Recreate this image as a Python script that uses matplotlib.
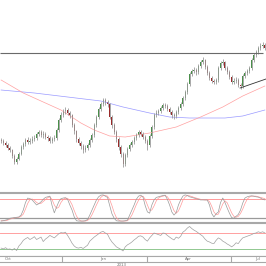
import numpy as np
import matplotlib
matplotlib.use("Agg")
import matplotlib.pyplot as plt

# price candles (arbitrary units, no axis labels on the original)
first_open = 60
closes = [59, 57, 55, 52, 50, 44, 38, 41, 46, 53, 56, 60, 58, 59, 61, 62, 66, 68, 65, 66,
          63, 62, 59, 61, 62, 70, 80, 85, 89, 90, 87, 85, 75, 69, 61, 57, 54, 50, 52, 55,
          60, 65, 75, 83, 91, 96, 100, 98, 96, 83, 75, 68, 61, 53, 46, 36, 45, 51, 55, 58,
          62, 65, 68, 66, 63, 59, 55, 64, 73, 85, 87, 89, 92, 95, 94, 91, 88, 85, 84, 88,
          92, 96, 102, 108, 116, 126, 129, 130, 128, 134, 138, 140, 133, 127, 122, 119, 118, 120, 132, 137,
          138, 132, 128, 123, 118, 119, 120, 115, 114, 124, 127, 129, 132, 140, 145, 148, 152, 154, 155, 152]
highs = [62, 61, 59, 57, 54, 51, 46, 43, 48, 55, 58, 62, 63, 62, 64, 65, 68, 70, 70, 69,
         68, 65, 64, 63, 65, 72, 82, 88, 91, 93, 92, 89, 86, 77, 70, 63, 59, 56, 55, 57,
         62, 67, 77, 85, 93, 98, 102, 102, 100, 97, 85, 77, 70, 63, 55, 48, 47, 53, 57, 60,
         64, 67, 70, 70, 68, 65, 61, 66, 75, 87, 90, 91, 94, 97, 97, 96, 93, 90, 87, 90,
         94, 98, 104, 110, 118, 128, 131, 133, 132, 136, 140, 143, 141, 135, 129, 124, 121, 122, 134, 139,
         141, 139, 134, 130, 125, 122, 123, 122, 117, 126, 129, 131, 134, 142, 147, 150, 154, 157, 158, 157]
lows = [57, 55, 53, 50, 48, 42, 36, 36, 40, 45, 51, 54, 56, 56, 57, 59, 60, 64, 63, 62,
        61, 59, 57, 57, 59, 60, 68, 78, 83, 86, 85, 82, 73, 66, 58, 55, 51, 47, 48, 50,
        53, 58, 63, 73, 81, 89, 94, 95, 93, 81, 72, 66, 58, 50, 43, 33, 34, 43, 49, 53,
        56, 60, 63, 64, 61, 57, 50, 53, 62, 71, 83, 85, 87, 90, 92, 89, 86, 82, 81, 82,
        86, 90, 94, 100, 106, 114, 124, 127, 125, 126, 132, 136, 131, 125, 120, 117, 116, 116, 118, 130,
        135, 130, 126, 121, 116, 116, 117, 113, 111, 112, 122, 125, 127, 130, 138, 143, 146, 150, 152, 150]

# moving averages, read at a few candles
ma_long_idx = [0, 15, 30, 45, 55, 67, 76, 85, 93, 101, 109, 114, 119]
ma_long = [110, 107, 103, 99, 93, 87, 83, 82, 82, 82, 84, 87, 90]
ma_short_idx = [0, 10, 20, 27, 36, 42, 49, 56, 67, 79, 90, 100, 109, 119]
ma_short = [120, 107, 97, 90, 77, 70, 64, 63, 67, 73, 83, 93, 104, 114]

resistance = 147
trend_idx = [107.8, 119.5]
trend_val = [112, 121]

stoch_k = [11, 12, 14, 16, 20, 21, 22, 23, 24, 30, 46, 70, 84, 82, 78, 70, 62, 66, 72, 80,
           86, 88, 90, 60, 37, 55, 72, 82, 84, 85, 80, 62, 46, 24, 12, 11, 11, 11, 12, 16,
           30, 46, 62, 78, 88, 93, 94, 90, 86, 60, 34, 20, 12, 11, 11, 11, 12, 14, 30, 46,
           62, 80, 90, 93, 87, 60, 40, 36, 62, 78, 86, 88, 90, 92, 93, 80, 62, 40, 30, 38,
           62, 78, 90, 94, 92, 88, 86, 84, 82, 80, 78, 78, 78, 78, 62, 35, 24, 34, 40, 70,
           84, 70, 52, 36, 22, 20, 26, 32, 46, 68, 84, 88, 90, 91, 90, 88, 87, 84, 80, 78]
stoch_d = [12, 12, 12, 14, 17, 19, 21, 22, 23, 26, 33, 49, 67, 79, 81, 77, 70, 66, 67, 73,
           79, 85, 88, 79, 62, 51, 55, 70, 79, 84, 83, 76, 63, 44, 27, 16, 11, 11, 11, 13,
           19, 31, 46, 62, 76, 86, 92, 92, 90, 79, 60, 38, 22, 14, 11, 11, 11, 12, 19, 30,
           46, 63, 77, 88, 90, 80, 62, 45, 46, 59, 75, 84, 88, 90, 92, 88, 78, 61, 44, 36,
           43, 59, 77, 87, 92, 91, 89, 86, 84, 82, 80, 79, 78, 78, 73, 58, 40, 31, 33, 48,
           65, 75, 69, 53, 37, 26, 23, 26, 35, 49, 66, 80, 87, 90, 90, 90, 88, 86, 84, 82]
rsi = [33, 31, 34, 30, 31, 28, 32, 27, 38, 44, 52, 56, 59, 54, 57, 61, 54, 57, 60, 49,
       55, 59, 64, 61, 58, 63, 68, 71, 70, 72, 64, 55, 45, 38, 34, 33, 35, 32, 36, 40,
       50, 55, 60, 64, 68, 72, 74, 70, 67, 56, 48, 42, 36, 33, 30, 26, 36, 41, 44, 48,
       53, 57, 62, 63, 60, 54, 50, 58, 64, 70, 68, 66, 64, 70, 69, 64, 60, 56, 53, 60,
       57, 62, 72, 76, 82, 86, 81, 77, 74, 70, 66, 62, 55, 50, 48, 45, 44, 52, 58, 55,
       50, 47, 43, 40, 36, 40, 46, 44, 52, 58, 60, 62, 64, 66, 69, 70, 73, 71, 73, 70]

date_labels = ["Oct", "Jan", "Apr", "Jul"]
date_label_idx = [3.1, 46, 84.3, 115.9]
date_tick_idx = [27.5, 65.8, 103.7]
year_label = "2013"
year_idx = 54.5

n = len(closes)
idx = np.arange(n)
closes = np.array(closes)
opens = np.array([first_open] + list(closes[:-1]))
highs = np.array(highs)
lows = np.array(lows)
up = closes >= opens

fig = plt.figure(figsize=(2.66, 2.66), dpi=100)
edge = "#a8a8a8"

def panel(rect):
    ax = fig.add_axes(rect)
    ax.set_xlim(-0.5, n - 0.5)
    ax.set_xticks([])
    ax.set_yticks([])
    for s in ["left", "right"]:
        ax.spines[s].set_visible(False)
    for s in ["top", "bottom"]:
        ax.spines[s].set_color(edge)
        ax.spines[s].set_linewidth(0.8)
    return ax

ax = panel([0, 74 / 266, 1, 192 / 266])
ax.spines["top"].set_visible(False)
ax.set_ylim(8, 200)
ax.plot(ma_long_idx, ma_long, color="#9a9aff", lw=0.5)
ax.plot(ma_short_idx, ma_short, color="#ffa0a0", lw=0.5)
ax.vlines(idx, lows, highs, color="#9a9a9a", lw=0.6)
ax.bar(idx[up], closes[up] - opens[up], bottom=opens[up], width=0.45, color="#4a8f4a", linewidth=0)
ax.bar(idx[~up], opens[~up] - closes[~up], bottom=closes[~up], width=0.45, color="#9a2a2a", linewidth=0)
ax.hlines(resistance, -0.5, 118, color="#6a6a6a", lw=0.8)
ax.plot(trend_idx, trend_val, color="#333333", lw=0.6)

ax2 = panel([0, 44 / 266, 1, 29 / 266])
ax2.set_ylim(8, 100)
ax2.axhline(80, color="#ff9a9a", lw=0.7)
ax2.axhline(20, color="#9a9a9a", lw=0.9)
ax2.plot(idx, stoch_d, color="#ff9a9a", lw=0.5)
ax2.plot(idx, stoch_k, color="#9a9a9a", lw=0.5)

ax3 = panel([0, 10 / 266, 1, 33 / 266])
ax3.set_ylim(13.6, 94.5)
ax3.axhline(70, color="#ffa0a0", lw=0.7)
ax3.axhline(30, color="#90c890", lw=0.7)
ax3.plot(idx, rsi, color="#a0a0a0", lw=0.5)

ax4 = panel([0, 4 / 266, 1, 6 / 266])
ax4.set_ylim(0, 1)
ax4.vlines(date_tick_idx, 0, 1, color=edge, lw=0.8)
for x, lab in zip(date_label_idx, date_labels):
    ax4.text(x, 0.5, lab, fontsize=2.8, color="#707070", ha="center", va="center")
ax4.text(year_idx, -0.45, year_label, fontsize=2.8, color="#707070", ha="center", va="center",
         clip_on=False)

plt.savefig("out.png", dpi=100)
